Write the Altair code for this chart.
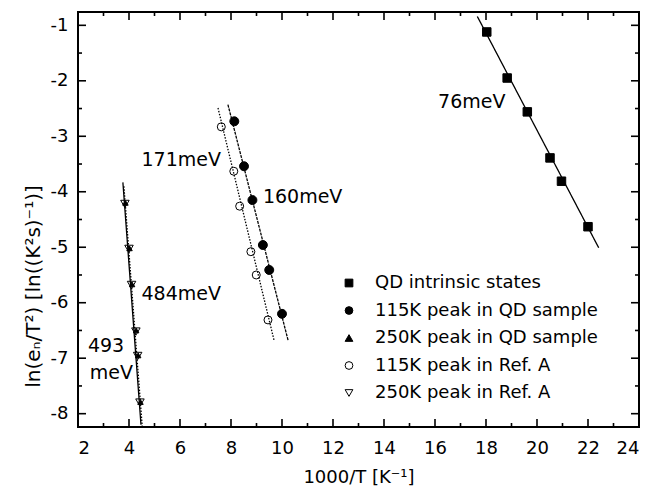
import altair as alt
import pandas as pd

# ---------------- data ----------------
series_names = ["QD intrinsic states", "115K peak in QD sample", "250K peak in QD sample",
                "115K peak in Ref. A", "250K peak in Ref. A"]

qd_x = [18.03, 18.83, 19.62, 20.51, 20.96, 22.00]
qd_y = [-1.12, -1.95, -2.56, -3.39, -3.81, -4.63]
qd115_x = [8.13, 8.51, 8.84, 9.25, 9.50, 10.00]
qd115_y = [-2.73, -3.54, -4.15, -4.96, -5.41, -6.20]
qd250_x = [3.86, 4.02, 4.12, 4.28, 4.36, 4.45]
qd250_y = [-4.20, -5.02, -5.67, -6.50, -6.95, -7.79]
ref115_x = [7.62, 8.11, 8.34, 8.78, 8.99, 9.45]
ref115_y = [-2.83, -3.63, -4.26, -5.08, -5.50, -6.31]
ref250_x = [3.84, 4.00, 4.10, 4.27, 4.34, 4.43]
ref250_y = [-4.22, -5.03, -5.68, -6.52, -6.96, -7.80]

# fitted lines: start and end points
fit_names = ["QD intrinsic states", "115K peak in QD sample", "115K peak in Ref. A",
             "250K peak in QD sample", "250K peak in Ref. A"]
fit_x1 = [17.66, 7.88, 7.49, 3.76, 3.80]
fit_y1 = [-0.84, -2.43, -2.49, -3.83, -3.90]
fit_x2 = [22.42, 10.24, 9.69, 4.47, 4.52]
fit_y2 = [-5.01, -6.68, -6.68, -8.20, -8.24]

# annotations
ann_text = ["76meV", "171meV", "160meV", "484meV", "493", "meV"]
ann_x = [16.12, 4.49, 9.25, 4.49, 2.39, 2.46]
ann_y = [-2.38, -3.42, -4.10, -5.85, -6.78, -7.26]

x_major = list(range(2, 25, 2))
x_minor = list(range(3, 24, 2))
y_major = [-1, -2, -3, -4, -5, -6, -7, -8]
y_minor = [-1.5, -2.5, -3.5, -4.5, -5.5, -6.5, -7.5]

# ---------------- styles ----------------
FONT = "DejaVu Sans"
W, H = 561, 415
XDOM = [2, 24]
YDOM = [-8.24, -0.76]
MAJ, MIN = 8, 4
shape_range = ["square", "circle", "triangle-up", "circle", "triangle-down"]
fill_range = ["black", "black", "black", "transparent", "transparent"]
size_map = {series_names[0]: 72, series_names[1]: 80, series_names[2]: 30,
            series_names[3]: 64, series_names[4]: 72}

rows = []
for name, xs_, ys_ in zip(series_names,
                          [qd_x, qd115_x, qd250_x, ref115_x, ref250_x],
                          [qd_y, qd115_y, qd250_y, ref115_y, ref250_y]):
    for a, b in zip(xs_, ys_):
        rows.append({"series": name, "x": a, "y": b, "sz": size_map[name]})
pts = pd.DataFrame(rows)

dash_map = {"QD intrinsic states": "solid", "250K peak in QD sample": "solid",
            "115K peak in QD sample": "dash", "115K peak in Ref. A": "dot",
            "250K peak in Ref. A": "dot"}
lrows = []
for n, a1, b1, a2, b2 in zip(fit_names, fit_x1, fit_y1, fit_x2, fit_y2):
    lrows.append({"line": n, "x": a1, "y": b1, "style": dash_map[n]})
    lrows.append({"line": n, "x": a2, "y": b2, "style": dash_map[n]})
lines = pd.DataFrame(lrows)

ann = pd.DataFrame({"t": ann_text, "x": ann_x, "y": ann_y})

xs = alt.Scale(domain=XDOM, nice=False, zero=False)
ys = alt.Scale(domain=YDOM, nice=False, zero=False)

LABEL_EXPR = "'' + datum.value"
AX_X = alt.Axis(
    orient="bottom", values=x_major, ticks=False, domain=False, grid=False,
    labelExpr=LABEL_EXPR,
    labelFontSize=18, labelFont=FONT, labelColor="black", labelPadding=12,
    title="1000/T [K⁻¹]", titleFont=FONT, titleFontSize=18, titleFontWeight="normal",
    titleColor="black", titleX=W / 2, titleY=50, titleBaseline="middle")
AX_Y = alt.Axis(
    orient="left", values=y_major, ticks=False, domain=False, grid=False,
    labelExpr=LABEL_EXPR,
    labelFontSize=18, labelFont=FONT, labelColor="black", labelPadding=10,
    title="ln(eₙ/T²) [ln((K²s)⁻¹)]", titleFont=FONT, titleFontSize=20,
    titleFontWeight="normal", titleColor="black", titleX=-45, titleY=274,
    titleAngle=-90, titleAlign="center", titleBaseline="middle")

legend = alt.Legend(orient="none", legendX=262, legendY=262, title=None,
                    labelFontSize=18, labelFont=FONT, labelColor="black", labelLimit=400,
                    symbolSize=60, symbolStrokeColor="black", symbolStrokeWidth=1,
                    rowPadding=9.5, labelOffset=17, padding=0)

points = alt.Chart(pts).mark_point(stroke="black", strokeWidth=1, opacity=1).encode(
    x=alt.X("x:Q", scale=xs, axis=AX_X),
    y=alt.Y("y:Q", scale=ys, axis=AX_Y),
    shape=alt.Shape("series:N", scale=alt.Scale(domain=series_names, range=shape_range), legend=legend),
    fill=alt.Fill("series:N", scale=alt.Scale(domain=series_names, range=fill_range), legend=legend),
    stroke=alt.Stroke("series:N", scale=alt.Scale(domain=series_names, range=["black"] * 5), legend=legend),
    size=alt.Size("sz:Q", scale=None, legend=None),
)

line_layer = alt.Chart(lines).mark_line(color="black", strokeWidth=1.3).encode(
    x=alt.X("x:Q", scale=xs, axis=AX_X),
    y=alt.Y("y:Q", scale=ys, axis=AX_Y),
    detail="line:N",
    strokeDash=alt.StrokeDash("style:N", scale=alt.Scale(
        domain=["solid", "dash", "dot"], range=[[1, 0], [3, 1], [1.5, 1.5]]), legend=None),
)

text_layer = alt.Chart(ann).mark_text(align="left", baseline="middle", fontSize=19,
                                      font=FONT, color="black").encode(
    x=alt.X("x:Q", scale=xs, axis=AX_X),
    y=alt.Y("y:Q", scale=ys, axis=AX_Y),
    text="t:N",
)

# inward-pointing axis ticks on all four sides, placed through the scales
xt_major = pd.DataFrame({"x": x_major})
xt_minor = pd.DataFrame({"x": x_minor})
yt_major = pd.DataFrame({"y": y_major})
yt_minor = pd.DataFrame({"y": y_minor})


def xticks(df, length):
    base = alt.Chart(df).mark_rule(color="black", strokeWidth=1.6)
    bottom = base.encode(x=alt.X("x:Q", scale=xs, axis=AX_X),
                         y=alt.value(H), y2=alt.value(H - length))
    top = base.encode(x=alt.X("x:Q", scale=xs, axis=AX_X),
                      y=alt.value(0), y2=alt.value(length))
    return [bottom, top]


def yticks(df, length):
    base = alt.Chart(df).mark_rule(color="black", strokeWidth=1.6)
    left = base.encode(y=alt.Y("y:Q", scale=ys, axis=AX_Y),
                       x=alt.value(0), x2=alt.value(length))
    right = base.encode(y=alt.Y("y:Q", scale=ys, axis=AX_Y),
                        x=alt.value(W), x2=alt.value(W - length))
    return [left, right]


tick_layers = xticks(xt_major, MAJ) + xticks(xt_minor, MIN) + yticks(yt_major, MAJ) + yticks(yt_minor, MIN)

chart = alt.layer(
    line_layer, points, text_layer, *tick_layers
).properties(
    width=W, height=H, background="white",
    autosize=alt.AutoSizeParams(type="none"),
    padding={"left": 70, "top": 4, "right": 5, "bottom": 70},
).configure_view(stroke="black", strokeWidth=2)

chart.save("out.html", embed_options={"renderer": "svg", "actions": False})
